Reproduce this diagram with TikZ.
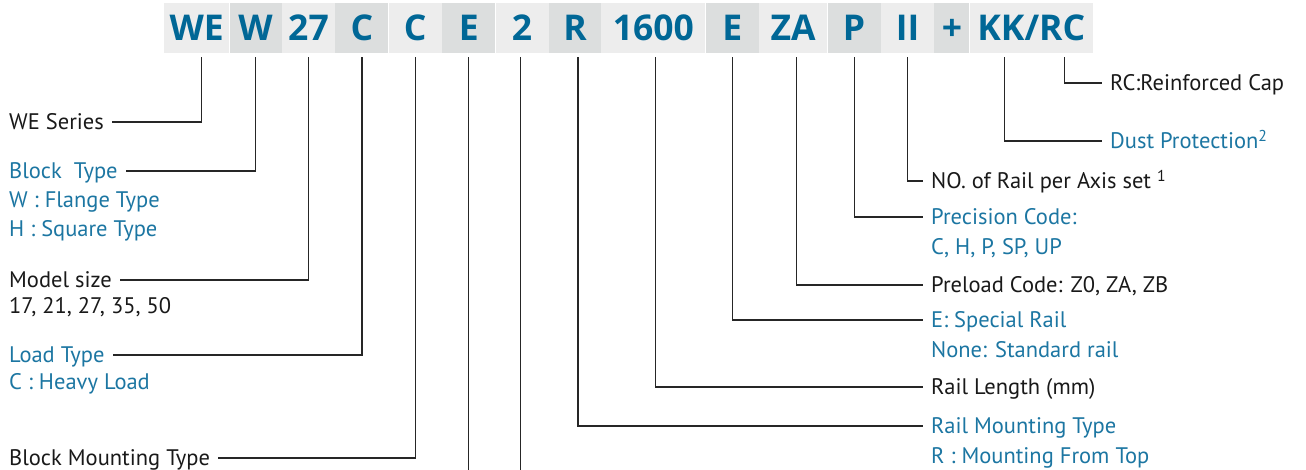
\documentclass[tikz,border=0pt]{standalone}
\usepackage{fontspec}
\setmainfont{PT Sans}
\newfontfamily\codefont{Open Sans}
\usetikzlibrary{positioning}
\definecolor{codeblue}{RGB}{0,103,150}
\definecolor{lblblue}{RGB}{28,118,162}
\definecolor{lblblack}{RGB}{25,25,25}
\definecolor{boxlight}{RGB}{237,237,237}
\definecolor{boxdark}{RGB}{220,222,222}

\tikzset{
  codebox/.style={minimum height=50pt, inner sep=0pt, text height=25.5pt, text depth=0pt,
    anchor=west, font=\codefont\bfseries\fontsize{35.5}{36}\selectfont, text=codeblue},
  lbl/.style={inner sep=0pt, text height=15.5pt, text depth=0pt,
    font=\fontsize{22.5}{26}\selectfont, text=lblblack},
  lblb/.style={lbl, text=lblblue},
  conn/.style={draw=black!85, line width=1.2pt, shorten <=4pt, shorten >=8pt},
}

\begin{document}
\begin{tikzpicture}[x=1pt,y=-1pt]
\useasboundingbox (0,0) rectangle (1306,470);

% code boxes
\node[codebox, fill=boxlight, minimum width=65pt] (h1) at (164,28) {WE};
\foreach \txt/\bw/\shade [count=\i from 2] in {W/52/boxdark, 27/53/boxlight,
    C/53/boxdark, C/53/boxlight, E/53/boxdark, 2/53/boxlight, R/52/boxdark,
    1600/104/boxlight, E/53/boxdark, ZA/68/boxlight, P/53/boxdark,
    II/53/boxlight, +/35/boxdark, {KK/RC}/123/boxlight}{
  \pgfmathtruncatemacro\j{\i-1}
  \node[codebox, fill=\shade, minimum width=\bw pt] (h\i) at (h\j.east) {\txt};
}

% left labels
\node[lbl, anchor=west] (lWE) at (9,122) {WE Series};
\node[lblb, anchor=west] (lBlock) at (9,171) {Block\ \ Type};
\node[lblb, anchor=west] (lBlockW) at (9,200) {W : Flange Type};
\node[lblb, anchor=west] (lBlockH) at (9,229) {H : Square Type};
\node[lbl, anchor=west] (lModel) at (9,280) {Model size};
\node[lbl, anchor=west] (lModelN) at (9,306) {17, 21, 27, 35, 50};
\node[lblb, anchor=west] (lLoad) at (9,355) {Load Type};
\node[lblb, anchor=west] (lLoadC) at (9,382) {C : Heavy Load};
\node[lbl, anchor=west] (lMount) at (9,458) {Block Mounting Type};

% right labels
\node[lbl, anchor=west] (rCap) at (1110,83) {RC:Reinforced Cap};
\node[lblb, anchor=west] (rDust) at (1110,141) {Dust Protection\textsuperscript{2}};
\node[lbl, anchor=west] (rNum) at (931,181) {NO. of Rail per Axis set \textsuperscript{1}};
\node[lblb, anchor=west] (rPrec) at (931,217) {Precision Code:};
\node[lblb, anchor=west] (rPrecL) at (931,247) {C, H, P, SP, UP};
\node[lbl, anchor=west] (rPre) at (931,285) {Preload Code: Z0, ZA, ZB};
\node[lblb, anchor=west] (rRail) at (931,320) {E: Special Rail};
\node[lblb, anchor=west] (rRailN) at (931,350) {None: Standard rail};
\node[lbl, anchor=west] (rLen) at (931,387) {Rail Length (mm)};
\node[lblb, anchor=west] (rMnt) at (931,426) {Rail Mounting Type};
\node[lblb, anchor=west] (rMntR) at (931,456) {R : Mounting From Top};

% connectors
\draw[conn] ([xshift=5pt]h1.south) |- (lWE.east);
\draw[conn] (h2.south) |- (lBlock.east);
\draw[conn] (h3.south) |- (lModel.east);
\draw[conn] (h4.south) |- (lLoad.east);
\draw[conn] (h5.south) |- (lMount.east);
\coordinate (bot) at (0,474);
\coordinate (eE) at (h6.south |- bot);
\coordinate (e2) at ([xshift=-1.5pt]h7.south |- bot);
\draw[conn, shorten >=0pt] (h6.south) -- (eE);
\draw[conn, shorten >=0pt] ([xshift=-1.5pt]h7.south) -- (e2);
\draw[conn] ([xshift=3pt]h8.south) |- (rMnt.west);
\draw[conn] ([xshift=2pt]h9.south) |- (rLen.west);
\draw[conn] (h10.south) |- (rRail.west);
\draw[conn] ([xshift=3pt]h11.south) |- (rPre.west);
\draw[conn] (h12.south) |- (rPrec.west);
\draw[conn] (h13.south) |- (rNum.west);
\draw[conn] ([xshift=-26.5pt]h15.south) |- (rDust.west);
\draw[conn] ([xshift=33.5pt]h15.south) |- (rCap.west);
\end{tikzpicture}
\end{document}
